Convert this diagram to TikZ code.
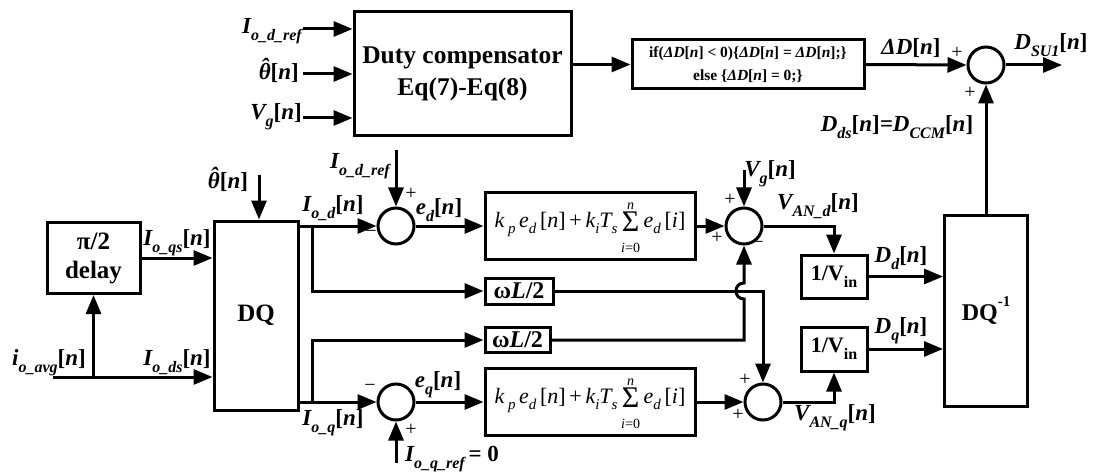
\documentclass[tikz,border=0pt]{standalone}
\usepackage{fontspec}
\setmainfont{Liberation Serif}
\usetikzlibrary{arrows.meta,calc}
\newcommand{\dn}[1]{\raisebox{-0.3em}{\fontsize{16}{16}\selectfont #1}}
\newcommand{\upx}[1]{\raisebox{0.55em}{\fontsize{15}{15}\selectfont #1}}
\newcommand{\nn}{{\upshape[}n{\upshape]}}
\newcommand{\thh}{\hbox{\ooalign{θ\cr\hidewidth\raisebox{0.22em}{\char"02C6}\hidewidth\cr}}}
\newcommand{\dr}[1]{\raisebox{-0.3em}{\fontsize{15}{15}\selectfont\itshape #1}}
\newcommand{\bigsig}{\begin{tabular}{@{}c@{}}{\fontsize{14}{14}\selectfont\itshape n}\\[-5pt]{\fontsize{30}{22}\selectfont Σ}\\[-3pt]{\fontsize{14}{14}\selectfont\itshape i\upshape =0}\end{tabular}}
\newcommand{\pieq}{{\itshape k}\,\dr{p}\,{\itshape e}\dr{d}\,[{\itshape n}]\,+\,{\itshape k}\dr{i}{\itshape T}\dr{s}\,\raisebox{-4pt}{\bigsig}\,{\itshape e}\dr{d}\,[{\itshape i}]}
\newcommand{\dd}{{\itshape ΔD}[{\itshape n}]}
\tikzset{
 lbl/.style={font=\fontsize{23}{25}\selectfont\bfseries\itshape, inner sep=0pt},
 blk/.style={draw, line width=3pt, inner sep=0pt},
 arr/.style={line width=3pt, -{Triangle[length=19pt,width=15pt]}},
 sumc/.style={draw, circle, line width=3pt, minimum size=36pt, inner sep=0pt},
 sgn/.style={font=\fontsize{20}{20}\selectfont, inner sep=0pt},
 bt/.style={font=\fontsize{24}{28}\selectfont\bfseries, align=center},
}
\begin{document}
\begin{tikzpicture}[x=1pt,y=-1pt]
\useasboundingbox (0,0) rectangle (1094,473);
% blocks
\node[blk, bt, minimum width=217pt, minimum height=124pt, font=\fontsize{25.5}{32}\selectfont\bfseries] (duty) at (462.5,74) {Duty compensator\\Eq(7)-Eq(8)};
\node[blk, minimum width=232pt, minimum height=49pt, font=\fontsize{15.5}{23}\selectfont\bfseries, align=center] (ifb) at (748,64.5) {if(\dd{} < 0)\{\dd{} = \dd;\}\\else \{\dd{} = 0;\}};
\node[sumc] (sumD) at (986,65) {};
\node[blk, bt, minimum width=83pt, minimum height=191pt] (dqi) at (986,310.5) {DQ\upx{-1}};
\node[blk, bt, font=\fontsize{22}{24}\selectfont\bfseries, minimum width=66pt, minimum height=43pt] (vin1) at (834,276.5) {1/V\dn{in}};
\node[blk, bt, font=\fontsize{22}{24}\selectfont\bfseries, minimum width=66pt, minimum height=44pt] (vin2) at (834,349) {1/V\dn{in}};
\node[sumc] (s1) at (744,226) {};
\node[sumc] (s2) at (763,402) {};
\node[blk, minimum width=210pt, minimum height=62pt, font=\fontsize{22}{24}\selectfont] (pid) at (590,226) {\pieq};
\node[blk, minimum width=210pt, minimum height=61pt, font=\fontsize{22}{24}\selectfont] (piq) at (590,402) {\pieq};
\node[blk, bt, minimum width=68pt, minimum height=26pt] (wl1) at (519,291) {ω{\itshape L}/2};
\node[blk, bt, minimum width=65pt, minimum height=25pt] (wl2) at (517.5,340) {ω{\itshape L}/2};
\node[sumc] (ed) at (396,226) {};
\node[sumc] (eq) at (396,402) {};
\node[blk, bt, font=\fontsize{25}{28}\selectfont\bfseries, minimum width=84pt, minimum height=189pt] (dq) at (256,315.5) {DQ};
\node[blk, bt, font=\fontsize{25}{29}\selectfont\bfseries, minimum width=93pt, minimum height=71pt] (delay) at (93.5,258) {π/2\\delay};
% free ends
\coordinate (in1) at (303,29);
\coordinate (in2) at (303,74);
\coordinate (in3) at (303,118);
\coordinate (out1) at (1062,65);
\coordinate (th2) at (259,175);
\coordinate (ref1) at (396,150);
\coordinate (ref2) at (396,463);
\coordinate (vg2) at (744,170);
\coordinate (iavg) at (53,377);
\coordinate (b0) at (93.5,377);
\coordinate (b1) at (312,226);
\coordinate (b2) at (312,402);
% connectors top
\draw[arr] (in1) -- (in1 -| duty.west);
\draw[arr] (in2) -- (in2 -| duty.west);
\draw[arr] (in3) -- (in3 -| duty.west);
\draw[arr] (duty.east |- ifb.west) -- (ifb.west);
\draw[arr] (ifb.east) -- (sumD.west);
\draw[arr] (sumD.east) -- (out1);
\draw[arr] (dqi.north) -- (sumD.south);
% left
\draw[arr] (iavg) -- (iavg -| dq.west);
\draw[arr] (b0) -- (delay.south);
\draw[arr] (delay.east) -- (delay.east -| dq.west);
\draw[arr] (th2) -- (th2 |- dq.north);
% d path
\draw[arr] (ed.west -| dq.east) -- (ed.west);
\draw[arr] (ref1) -- (ed.north);
\draw[arr] (b1) |- (wl1.west);
\draw[arr] (ed.east) -- (pid.west);
\draw[arr] (pid.east) -- (s1.west);
\draw[arr] (vg2) -- (s1.north);
\draw[arr] (s1.east) -| (vin1.north);
\draw[arr] (vin1.east) -- (vin1.east -| dqi.west);
% q path
\draw[arr] (eq.west -| dq.east) -- (eq.west);
\draw[arr] (ref2) -- (eq.south);
\draw[arr] (b2) |- (wl2.west);
\draw[arr] (eq.east) -- (piq.west);
\draw[arr] (piq.east) -- (s2.west);
\draw[arr] (s2.east) -| (vin2.south);
\draw[arr] (vin2.east) -- (vin2.east -| dqi.west);
% cross couplings
\draw[arr] (wl1.east) -| (s2.north);
\draw[arr] (wl2.east) -- (wl2.east -| s1.south) -- ($(s1.south |- wl1.east)+(0,8)$) .. controls +(-10.7,0) and +(-10.7,0) .. ($(s1.south |- wl1.east)+(0,-8)$) -- (s1.south);
% labels
\node[lbl, anchor=east] (l1) at (302,31) {I\dn{o\_d\_ref}};
\node[lbl, anchor=east] (l2) at (299,73) {\thh\nn};
\node[lbl, anchor=east] (l3) at (302,117) {V\dn{g}\nn};
\node[lbl] (l4) at (911,48) {ΔD\nn};
\node[lbl] (l5) at (1051,45) {D\dn{SU1}\nn};
\node[lbl] (l6) at (897,127) {D\dn{ds}\nn=D\dn{CCM}\nn};
\node[lbl] (l7) at (228,182) {\thh\nn};
\node[lbl] (l8) at (360,166) {I\dn{o\_d\_ref}};
\node[lbl] (l9) at (439,210) {e\dn{d}\nn};
\node[lbl] (l10) at (333,208) {I\dn{o\_d}\nn};
\node[lbl] (l11) at (177,243) {I\dn{o\_qs}\nn};
\node[lbl] (l12) at (49,363) {i\dn{o\_avg}\nn};
\node[lbl] (l13) at (177,362) {I\dn{o\_ds}\nn};
\node[lbl] (l14) at (333,423) {I\dn{o\_q}\nn};
\node[lbl] (l15) at (452,459) {I\dn{o\_q\_ref}{\upshape\,= 0}};
\node[lbl] (l16) at (438,385) {e\dn{q}\nn};
\node[lbl] (l17) at (770,174) {V\dn{g}\nn};
\node[lbl] (l18) at (818,206) {V\dn{AN\_d}\nn};
\node[lbl] (l19) at (901,258) {D\dn{d}\nn};
\node[lbl] (l20) at (901,331) {D\dn{q}\nn};
\node[lbl] (l21) at (835,418) {V\dn{AN\_q}\nn};
% signs
\node[sgn] (p1) at (957,53) {+};
\node[sgn] (p2) at (970,93) {+};
\node[sgn] (p3) at (411,194) {+};
\node[sgn] (m1) at (371,234) {\char"2212};
\node[sgn] (m2) at (370,388) {\char"2212};
\node[sgn] (p4) at (411,430) {+};
\node[sgn] (p5) at (730,200) {+};
\node[sgn] (p6) at (717,238) {+};
\node[sgn] (m3) at (758,245) {\char"2212};
\node[sgn] (p7) at (745,380) {+};
\node[sgn] (p8) at (738,415) {+};
\end{tikzpicture}
\end{document}
